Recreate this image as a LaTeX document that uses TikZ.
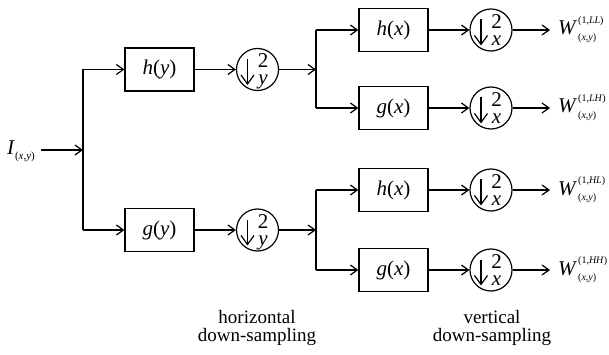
\documentclass[tikz,border=0pt]{standalone}
\usepackage{fontspec}
\setmainfont{Liberation Serif}
\usetikzlibrary{arrows.meta}
\newcommand{\fs}[1]{\fontsize{#1}{#1}\selectfont}
\tikzset{
  filt/.style={draw, line width=1.2pt, minimum width=69pt, minimum height=43pt, inner sep=0pt, font=\fs{21}},
  dsc/.style={draw, circle, line width=1.2pt, minimum size=42pt, inner sep=0pt},
  dtop/.style={inner sep=0pt, anchor=base, font=\fs{21}, text height=13pt, text depth=0pt},
  dbot/.style={inner sep=0pt, anchor=base, font=\fs{21}, text height=9pt, text depth=0pt},
  darr/.style={line width=1.2pt, -{Straight Barb[length=9pt,width=13pt,line width=1.2pt]}},
  arr/.style={line width=1.2pt, -{Straight Barb[length=7pt,width=10pt,line width=1.2pt]}},
  ln/.style={line width=1.2pt},
  wmain/.style={inner sep=0pt, anchor=base west, font=\fs{21}, text height=14pt, text depth=0pt},
  wsup/.style={inner sep=0pt, anchor=base west, font=\fs{10}, text height=7.5pt, text depth=2.5pt},
  wsub/.style={inner sep=0pt, anchor=base west, font=\fs{10}, text height=7pt, text depth=2.5pt},
  captxt/.style={align=center, font=\fs{19}, inner sep=0pt}
}
% down-sampler: circle with arrow, 2 and variable
\newcommand{\dsampler}[3]{%
  \node[dsc] (#1) at (#2) {};
  \coordinate (#1s) at ([shift={(-10,-10.5)}]#1.center);
  \coordinate (#1e) at ([shift={(-10,15.5)}]#1.center);
  \draw[darr] (#1s) -- (#1e);
  \node[dtop] (#1t) at ([shift={(5.5,-1.5)}]#1.center) {2};
  \node[dbot] (#1b) at ([shift={(5.5,15.5)}]#1.center) {\textit{#3}};
}
% output label W^{(1,..)}_{(x,y)}
\newcommand{\wout}[3]{%
  \node[wmain] (#1) at (#2) {\textit{W}};
  \node[wsup] (#1p) at ([shift={(0.5,-11.5)}]#1.base east) {(1,\textit{#3})};
  \node[wsub] (#1b) at ([shift={(0.5,5.5)}]#1.base east) {(\textit{x},\textit{y})};
}
\begin{document}
\begin{tikzpicture}[x=1pt,y=-1pt]
\useasboundingbox (0,0) rectangle (609,355);
% input
\node[inner sep=0pt, anchor=west] (I) at (7,151) {\fs{21}\textit{I}\raisebox{-5pt}{\fs{11}(\textit{x},\textit{y})}};
\coordinate (J1) at (83,150);
\coordinate (J1t) at (83,69.5);
\coordinate (J1b) at (83,230);
\draw[arr] (41,150) -- (J1);
\draw[ln] (J1t) -- (J1b);
% first stage
\node[filt] (hy) at (159.5,69.5) {\textit{h}(\textit{y})};
\node[filt] (gy) at (159.5,230) {\textit{g}(\textit{y})};
\dsampler{d1}{257.5,69.5}{y}
\dsampler{d2}{257.5,230}{y}
\draw[arr] (J1t) -- (hy.west);
\draw[arr] (J1b) -- (gy.west);
\draw[arr] (hy.east) -- (d1.west);
\draw[arr] (gy.east) -- (d2.west);
% junctions 2,3
\coordinate (J2) at (316,69.5);
\coordinate (J2t) at (316,30);
\coordinate (J2b) at (316,108);
\coordinate (J3) at (316,230);
\coordinate (J3t) at (316,190);
\coordinate (J3b) at (316,270);
\draw[arr] (d1.east) -- (J2);
\draw[arr] (d2.east) -- (J3);
\draw[ln] (J2t) -- (J2b);
\draw[ln] (J3t) -- (J3b);
% second stage
\node[filt] (hx1) at (393.5,30) {\textit{h}(\textit{x})};
\node[filt] (gx1) at (393.5,108) {\textit{g}(\textit{x})};
\node[filt] (hx2) at (393.5,190) {\textit{h}(\textit{x})};
\node[filt] (gx2) at (393.5,270) {\textit{g}(\textit{x})};
\dsampler{e1}{491,30}{x}
\dsampler{e2}{491,108}{x}
\dsampler{e3}{491,190}{x}
\dsampler{e4}{491,270}{x}
\foreach \f/\d/\c in {hx1/e1/J2t, gx1/e2/J2b, hx2/e3/J3t, gx2/e4/J3b}{
  \draw[arr] (\c) -- (\f.west);
  \draw[arr] (\f.east) -- (\d.west);
}
% outputs
\coordinate (o1) at (550,30);
\coordinate (o2) at (550,108);
\coordinate (o3) at (550,190);
\coordinate (o4) at (550,270);
\draw[arr] (e1.east) -- (o1);
\draw[arr] (e2.east) -- (o2);
\draw[arr] (e3.east) -- (o3);
\draw[arr] (e4.east) -- (o4);
\wout{w1}{558,35}{LL}
\wout{w2}{558,113}{LH}
\wout{w3}{558,195}{HL}
\wout{w4}{558,275}{HH}
% captions
\node[captxt] (c1) at (257,328) {horizontal\\[-1pt]down-sampling};
\node[captxt] (c2) at (492,328) {vertical\\[-1pt]down-sampling};
\end{tikzpicture}
\end{document}
